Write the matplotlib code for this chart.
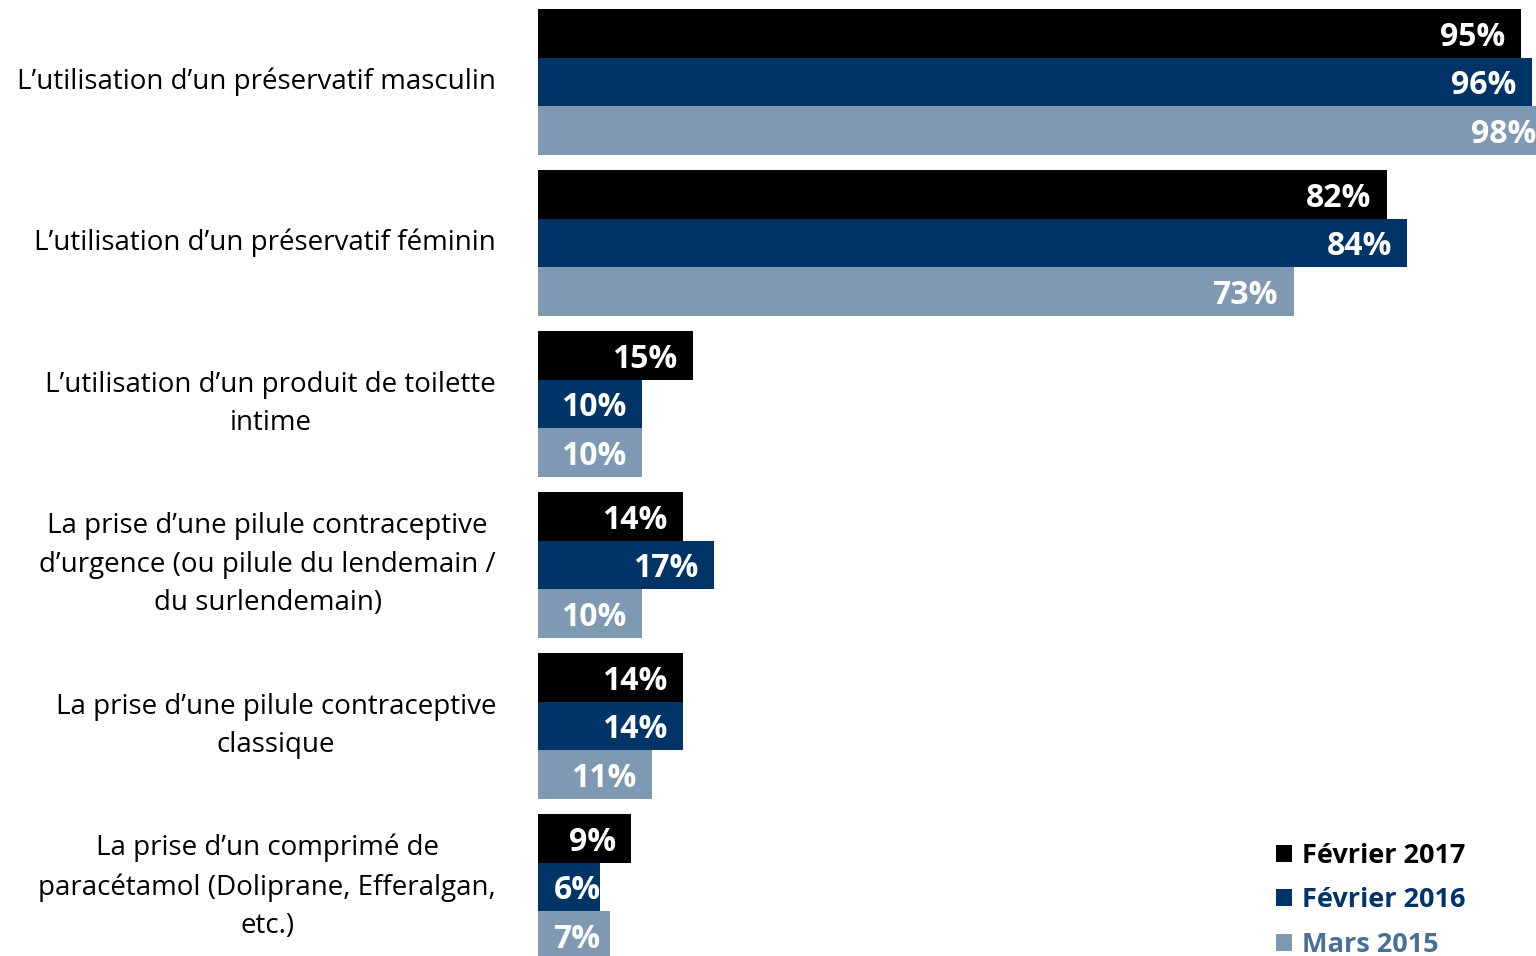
import matplotlib
matplotlib.use("Agg")
import matplotlib.pyplot as plt
import matplotlib.transforms as mtransforms
import numpy as np
from matplotlib.patches import Patch

# data
categories = [
    "L\u2019utilisation d\u2019un préservatif masculin",
    "L\u2019utilisation d\u2019un préservatif féminin",
    "L\u2019utilisation d\u2019un produit de toilette\nintime",
    "La prise d\u2019une pilule contraceptive\nd\u2019urgence (ou pilule du lendemain /\ndu surlendemain)",
    "La prise d\u2019une pilule contraceptive\nclassique",
    "La prise d\u2019un comprimé de\nparacétamol (Doliprane, Efferalgan,\netc.)",
]
series_names = ["Février 2017", "Février 2016", "Mars 2015"]
fev_2017 = [95, 82, 15, 14, 14, 9]
fev_2016 = [96, 84, 10, 17, 14, 6]
mars_2015 = [98, 73, 10, 10, 11, 7]

bar_colors = ["#000000", "#003366", "#7F99B2"]
text_colors = ["#000000", "#003366", "#4A6F96"]

W, H = 1536, 956
fig = plt.figure(figsize=(W / 100, H / 100), dpi=100)
# axes runs off the right edge, like the original slide
ax = fig.add_axes([538 / W, 0, 1035 / W, 1])
ax.set_xlim(0, 100)
ax.set_ylim(5.429, -0.509)
ax.set_axis_off()

font = "Open Sans"
y = np.arange(len(categories))
bar_h = 48.5 / 161
for k, vals in enumerate([fev_2017, fev_2016, mars_2015]):
    pos = y + (k - 1) * bar_h
    ax.barh(pos, vals, height=bar_h, color=bar_colors[k], edgecolor="none")
    for yy, v in zip(pos, vals):
        if v < 8:
            ax.text(1.5, yy, f"{v}%", ha="left", va="center_baseline",
                    color="white", fontsize=23, fontweight="bold", family=font)
        else:
            ax.text(v - 1.5, yy, f"{v}%", ha="right", va="center_baseline",
                    color="white", fontsize=23, fontweight="bold", family=font)

trans = mtransforms.blended_transform_factory(fig.transFigure, ax.transData)
for i, label in enumerate(categories):
    ax.text(496 / W, i, label, transform=trans, ha="right", va="center",
            multialignment="center", fontsize=20, family=font,
            linespacing=1.5, color="black")

handles = [Patch(facecolor=c, edgecolor="none") for c in bar_colors]
leg = fig.legend(handles, series_names, loc="upper left",
                 bbox_to_anchor=(1265 / W, 1 - 832 / H), frameon=False,
                 handlelength=0.6, handleheight=0.6, handletextpad=0.36,
                 labelspacing=0.68, borderaxespad=0,
                 prop={"family": font, "size": 19.5, "weight": "bold"})
for t, c in zip(leg.get_texts(), text_colors):
    t.set_color(c)

fig.savefig("out.png", dpi=100)
